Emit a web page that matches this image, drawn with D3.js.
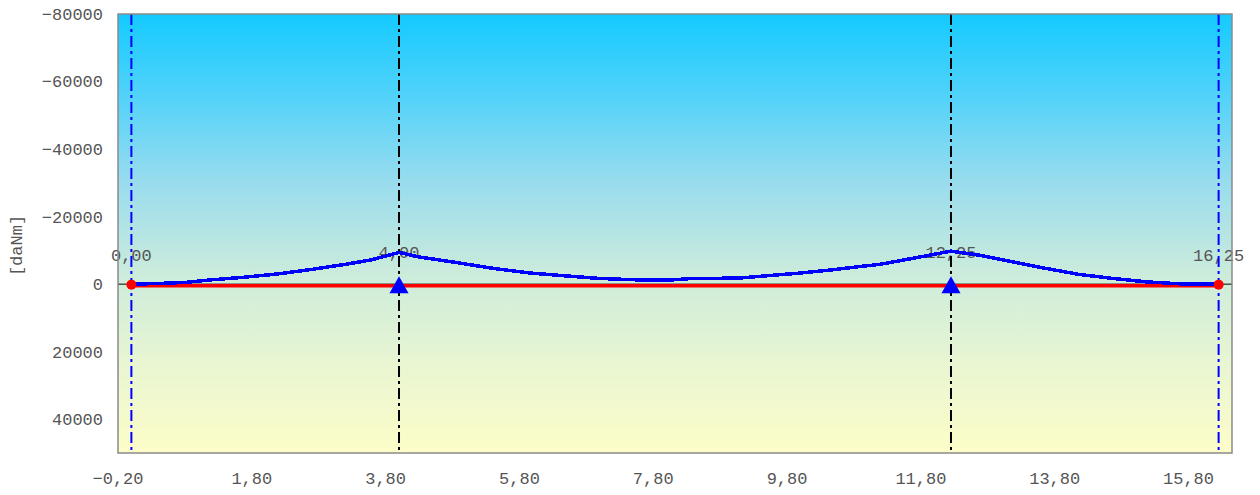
<!DOCTYPE html>
<html><head><meta charset="utf-8">
<script src="https://cdn.jsdelivr.net/npm/d3@7"></script>
<style>body{margin:0;background:#fff}svg{display:block}</style>
</head><body><svg id="c" width="1260" height="495"></svg>
<script>
// ---- data ----
const momentX = [0.0, 0.40, 0.80, 1.19, 1.70, 2.20, 2.69, 3.19, 3.59, 4.00, 4.29, 4.79, 5.29, 5.49, 5.98, 6.49, 6.99, 7.68, 8.03, 8.38, 9.08, 9.48, 9.98, 10.47, 10.98, 11.18, 11.67, 12.25, 12.67, 13.17, 13.67, 14.17, 14.67, 15.17, 15.67, 16.25];
const momentY = [0, -200, -500, -1270, -2070, -3050, -4350, -5840, -7200, -9400, -8090, -6610, -5040, -4440, -3260, -2460, -1690, -1190, -1190, -1690, -1780, -2460, -3260, -4240, -5420, -5840, -7620, -9780, -8590, -6610, -4650, -2870, -1690, -680, -100, 0];
const endSupports = [0.00, 16.25];
const midSupports = [4.00, 12.25];
const supportLabels = ["0,00", "4,00", "12,25", "16,25"];
const supportPos = [0.00, 4.00, 12.25, 16.25];
const xTicks = [-0.2, 1.8, 3.8, 5.8, 7.8, 9.8, 11.8, 13.8, 15.8];
const yTicks = [-80000, -60000, -40000, -20000, 0, 20000, 40000];
const xDomain = [-0.2, 16.45];
const yDomain = [-80000, 50000];
const yUnit = "[daNm]";

// ---- layout ----
const L = 118, R = 1232, T = 14, B = 453;
const svg = d3.select("#c");
const x = d3.scaleLinear().domain(xDomain).range([L, R]);
const y = d3.scaleLinear().domain(yDomain).range([T, B]);
const font = "'Liberation Mono', 'DejaVu Sans Mono', monospace";

const defs = svg.append("defs");
const g = defs.append("linearGradient").attr("id", "bg").attr("x1", 0).attr("y1", 0).attr("x2", 0).attr("y2", 1);
[[0, "#14caff"], [0.18, "#4fd2fa"], [0.38, "#98dcee"], [0.6, "#cdecdb"], [0.8, "#e9f6d2"], [1, "#fdfdc8"]]
  .forEach(([o, c]) => g.append("stop").attr("offset", o).attr("stop-color", c));

svg.append("rect").attr("x", L).attr("y", T).attr("width", R - L).attr("height", B - T)
  .attr("fill", "url(#bg)");

// zero line (thin black)
svg.append("line").attr("x1", L).attr("x2", R).attr("y1", y(0)).attr("y2", y(0))
  .attr("stroke", "#000").attr("stroke-width", 1);

// axes tick labels
const fmtX = v => d3.format(".2f")(v).replace(".", ",");
svg.append("g").selectAll("text").data(xTicks).join("text")
  .attr("x", d => x(d)).attr("y", 478).attr("dy", "0.35em")
  .attr("text-anchor", "middle").attr("font-family", font).attr("font-size", 17)
  .attr("fill", "#555").text(fmtX);
svg.append("g").selectAll("text").data(yTicks).join("text")
  .attr("x", 103).attr("y", d => y(d)).attr("dy", "0.35em")
  .attr("text-anchor", "end").attr("font-family", font).attr("font-size", 17)
  .attr("fill", "#555").text(d => d3.format("d")(d));
svg.append("text").attr("transform", `translate(16,${(T + B) / 2 + 12}) rotate(-90)`)
  .attr("text-anchor", "middle").attr("dy", "0.35em").attr("font-family", font).attr("font-size", 17)
  .attr("fill", "#555").text(yUnit);

// support labels
svg.append("g").selectAll("text").data(supportPos).join("text")
  .attr("x", d => x(d)).attr("y", (d, i) => y(0) - (i === 1 || i === 2 ? 32 : 29)).attr("dy", "0.35em")
  .attr("text-anchor", "middle").attr("font-family", font).attr("font-size", 17)
  .attr("fill", "#555").text((d, i) => supportLabels[i]);

// vertical support lines
svg.append("g").selectAll("line").data(endSupports).join("line")
  .attr("x1", d => x(d)).attr("x2", d => x(d)).attr("y1", T).attr("y2", B)
  .attr("stroke", "#0000ff").attr("stroke-width", 2).attr("stroke-dasharray", "11,4,3,4");
svg.append("g").selectAll("line").data(midSupports).join("line")
  .attr("x1", d => x(d)).attr("x2", d => x(d)).attr("y1", T).attr("y2", B)
  .attr("stroke", "#000").attr("stroke-width", 2).attr("stroke-dasharray", "11,4,3,4");

// red beam line
svg.append("line").attr("x1", x(endSupports[0])).attr("x2", x(endSupports[1]))
  .attr("y1", y(0) + 1.5).attr("y2", y(0) + 1.5).attr("stroke", "#ff0000").attr("stroke-width", 3.5);

// moment line
const line = d3.line().x((d, i) => x(momentX[i])).y(d => y(d));
svg.append("path").datum(momentY).attr("d", line).attr("fill", "none")
  .attr("stroke", "#0000ff").attr("stroke-width", 3.5).attr("shape-rendering", "crispEdges")
  .attr("stroke-linejoin", "round");

// end supports: red dots
svg.append("g").selectAll("circle").data(endSupports).join("circle")
  .attr("cx", d => x(d)).attr("cy", y(0) + 0.5).attr("r", 5).attr("fill", "#ff0000");

// mid supports: blue triangles
svg.append("g").selectAll("path").data(midSupports).join("path")
  .attr("d", d => { const cx = x(d), y0 = y(0); return `M${cx},${y0 - 8}L${cx + 9.5},${y0 + 9}L${cx - 9.5},${y0 + 9}Z`; })
  .attr("fill", "#0000ff");

// plot border
svg.append("rect").attr("x", L).attr("y", T).attr("width", R - L).attr("height", B - T)
  .attr("fill", "none").attr("stroke", "#8a8a8a").attr("stroke-width", 1.5);
</script></body></html>
